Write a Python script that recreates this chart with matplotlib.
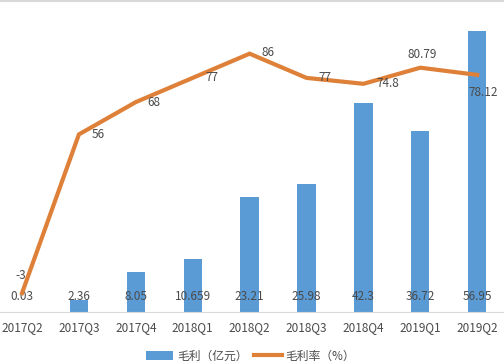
import numpy as np
import matplotlib
matplotlib.use("Agg")
import matplotlib.pyplot as plt
from matplotlib.lines import Line2D

plt.rcParams['font.family'] = ['Noto Sans CJK SC', 'DejaVu Sans']

# data
quarters = ['2017Q2', '2017Q3', '2017Q4', '2018Q1', '2018Q2',
            '2018Q3', '2018Q4', '2019Q1', '2019Q2']
gross_profit = [0.03, 2.36, 8.05, 10.659, 23.21, 25.98, 42.3, 36.72, 56.95]
gross_margin = [-3, 56, 68, 77, 86, 77, 74.8, 80.79, 78.12]
margin_text = ['-3', '56', '68', '77', '86', '77', '74.8', '80.79', '78.12']

# label offsets for the line labels (pixels)
margin_offsets = [(-1, 18), (19, 0), (18, 0), (19, 0), (18, 1),
                  (18, 0), (24, 0), (2, 13), (6, -18)]

bar_col = '#5B9BD5'
line_col = '#DF8039'
txt_col = '#4A4A4A'
axis_col = '#D9D9D9'

fig = plt.figure(figsize=(5.04, 3.64), dpi=100)
ax = fig.add_axes([0, 52/364, 1, 296/364])
x = np.arange(len(quarters))

ax.bar(x, gross_profit, width=0.32, color=bar_col, label='毛利（亿元）', zorder=2)
ax.set_ylim(0, 60)
ax.set_xlim(-22/56.9, (504-22)/56.9)
for s in ['top', 'left', 'right']:
    ax.spines[s].set_visible(False)
ax.spines['bottom'].set_color(axis_col)
ax.set_yticks([])
ax.set_xticks(x)
ax.set_xticklabels(quarters, fontsize=8.5, color=txt_col)
ax.tick_params(axis='x', length=0, pad=6.5)

# bar labels all sit at the same height near the base
for xi, v in zip(x, gross_profit):
    ax.annotate(f'{v:g}', (xi, 0), xytext=(0, 15), textcoords='offset pixels',
                ha='center', va='center', fontsize=8.5, color=txt_col)

ax2 = ax.twinx()
ax2.plot(x, gross_margin, color=line_col, lw=3, label='毛利率（%）',
         solid_joinstyle='miter')
ax2.set_ylim(-10, 100)
ax2.set_yticks([])
for s in ax2.spines.values():
    s.set_visible(False)

for xi, v, t, off in zip(x, gross_margin, margin_text, margin_offsets):
    ax2.annotate(t, (xi, v), xytext=off, textcoords='offset pixels',
                 ha='center', va='center', fontsize=8.5, color=txt_col)

# chart border line at the very top
fig.add_artist(Line2D([0, 1], [0.998, 0.998], transform=fig.transFigure,
                      color=axis_col, lw=1.5))

h1, l1 = ax.get_legend_handles_labels()
h2, l2 = ax2.get_legend_handles_labels()
fig.legend(h1 + h2, l1 + l2, loc='center', bbox_to_anchor=(0.497, 8/364),
           ncol=2, frameon=False, fontsize=8.5, handlelength=2.3,
           handletextpad=0.3, columnspacing=0.6, labelcolor=txt_col)

fig.savefig('out.png', dpi=100)
